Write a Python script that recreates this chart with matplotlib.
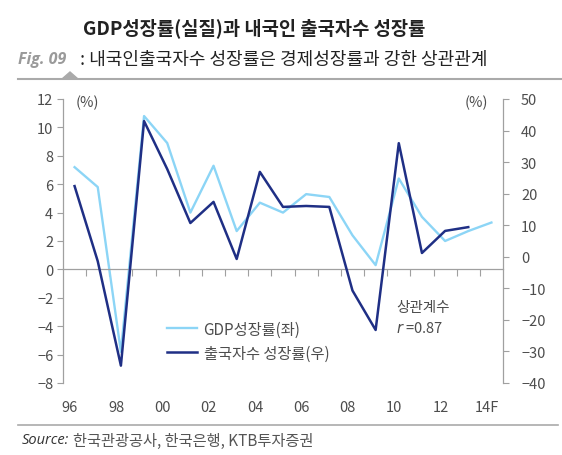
from matplotlib import pyplot as plt
from matplotlib.lines import Line2D
from matplotlib.patches import Polygon
import numpy as np

plt.rcParams['font.family'] = ['Noto Sans CJK KR', 'DejaVu Sans']

years = list(range(1996, 2015))
gdp_growth = [7.2, 5.8, -5.8, 10.8, 8.9, 4.0, 7.3, 2.7, 4.7, 4.0, 5.3, 5.1,
              2.4, 0.3, 6.4, 3.7, 2.0, 2.7, 3.3]
outbound_years = list(range(1996, 2014))
outbound_growth = [22.4, -1.4, -34.5, 43.0, 27.8, 10.7, 17.4, -0.7, 26.9, 15.8,
                   16.1, 15.8, -10.7, -23.2, 36.0, 1.2, 8.2, 9.4]
year_labels = ['96', '98', '00', '02', '04', '06', '08', '10', '12', '14F']

light = '#8cd5f6'
dark = '#1f2f85'
axis_gray = '#a0a0a0'
text_gray = '#4d4d4d'

fig = plt.figure(figsize=(5.62, 4.56), dpi=100)
W, H = 562, 456
ax = fig.add_axes([63 / W, 1 - 384 / H, 440 / W, 284 / H])
ax2 = ax.twinx()

l1, = ax.plot(years, gdp_growth, color=light, lw=1.7, label='GDP성장률(좌)')
l2, = ax2.plot(outbound_years, outbound_growth, color=dark, lw=1.8, label='출국자수 성장률(우)')

ax.set_xlim(1995.5, 2014.5)
ax.set_ylim(-8, 12)
ax2.set_ylim(-40, 50)
ax.set_yticks(np.arange(-8, 13, 2))
ax2.set_yticks(np.arange(-40, 51, 10))

# x axis line sits on zero, ticks at year boundaries
ax.spines['bottom'].set_position(('data', 0))
ax.set_xticks(np.arange(1996.5, 2014, 1))
ax.tick_params(axis='x', direction='out', length=5, width=0.8, color=axis_gray, labelbottom=False)

for a in (ax, ax2):
    a.spines['top'].set_visible(False)
    for s in ('left', 'right', 'bottom'):
        a.spines[s].set_color(axis_gray)
        a.spines[s].set_linewidth(0.9)
ax.spines['right'].set_visible(False)
ax2.spines['left'].set_visible(False)
ax2.spines['bottom'].set_visible(False)

ax.tick_params(axis='y', direction='out', length=4, width=0.8, color=axis_gray,
               labelsize=10.5, labelcolor=text_gray, pad=3)
ax2.tick_params(axis='y', direction='out', length=4, width=0.8, color=axis_gray,
                labelsize=10.5, labelcolor=text_gray, pad=9)
ax2.set_yticklabels(['\u221240', '\u221230', '\u221220', '\u221210', '0', '10', '20', '30', '40', '50'])
ax.set_yticklabels(['\u22128', '\u22126', '\u22124', '\u22122', '0', '2', '4', '6', '8', '10', '12'])

sec = ax.secondary_xaxis('bottom')
sec.set_xticks([y - 0.2 for y in years[::2]])
sec.set_xticklabels(year_labels)
sec.tick_params(length=0, labelsize=10.5, labelcolor=text_gray, pad=12)
sec.spines['bottom'].set_visible(False)

ax.text(0.055, 0.99, '(%)', transform=ax.transAxes, fontsize=10.5, color=text_gray, ha='center', va='center')
ax.text(0.94, 0.99, '(%)', transform=ax.transAxes, fontsize=10.5, color=text_gray, ha='center', va='center')

ax.text(0.757, 0.268, '상관계수', transform=ax.transAxes, fontsize=10.5, color=text_gray, va='center')
ax.text(0.757, 0.197, '$r$ =0.87', transform=ax.transAxes, fontsize=10.5, color=text_gray, va='center')

leg = ax2.legend(handles=[l1, l2], loc='upper left', bbox_to_anchor=(0.236, 0.22),
                 frameon=False, fontsize=11, borderpad=0, borderaxespad=0,
                 handlelength=2.0, handletextpad=0.4, labelspacing=0.45)
for t in leg.get_texts():
    t.set_color(text_gray)

# header
fig.text(83 / W, 1 - 28 / H, 'GDP성장률(실질)과 내국인 출국자수 성장률', fontsize=13.5,
         color='#222222', va='center', ha='left', weight='bold')
fig.text(80 / W, 1 - 60 / H, ': 내국인출국자수 성장률은 경제성장률과 강한 상관관계', fontsize=13,
         color='#222222', va='center', ha='left')
fig.text(18 / W, 1 - 60 / H, 'Fig. 09', fontsize=11.5, family='Open Sans', style='italic',
         weight='bold', color='#9a9a9a', va='center', ha='left')
fig.add_artist(Line2D([18 / W, 1.0], [1 - 80 / H, 1 - 80 / H], color='#aaaaaa', lw=1.5))
fig.add_artist(Polygon([[62 / W, 1 - 80 / H], [78 / W, 1 - 80 / H], [70 / W, 1 - 73 / H]],
                       closed=True, color='#aaaaaa', transform=fig.transFigure))

# footer
fig.add_artist(Line2D([18 / W, 558 / W], [1 - 426 / H, 1 - 426 / H], color='#aaaaaa', lw=1.2))
fig.text(22 / W, 1 - 441 / H, 'Source:', fontsize=10.5, family='Open Sans', style='italic',
         color='#333333', va='center', ha='left')
fig.text(73 / W, 1 - 441 / H, '한국관광공사, 한국은행, KTB투자증권', fontsize=11,
         color='#555555', va='center', ha='left')

fig.savefig('out.png', dpi=100)
